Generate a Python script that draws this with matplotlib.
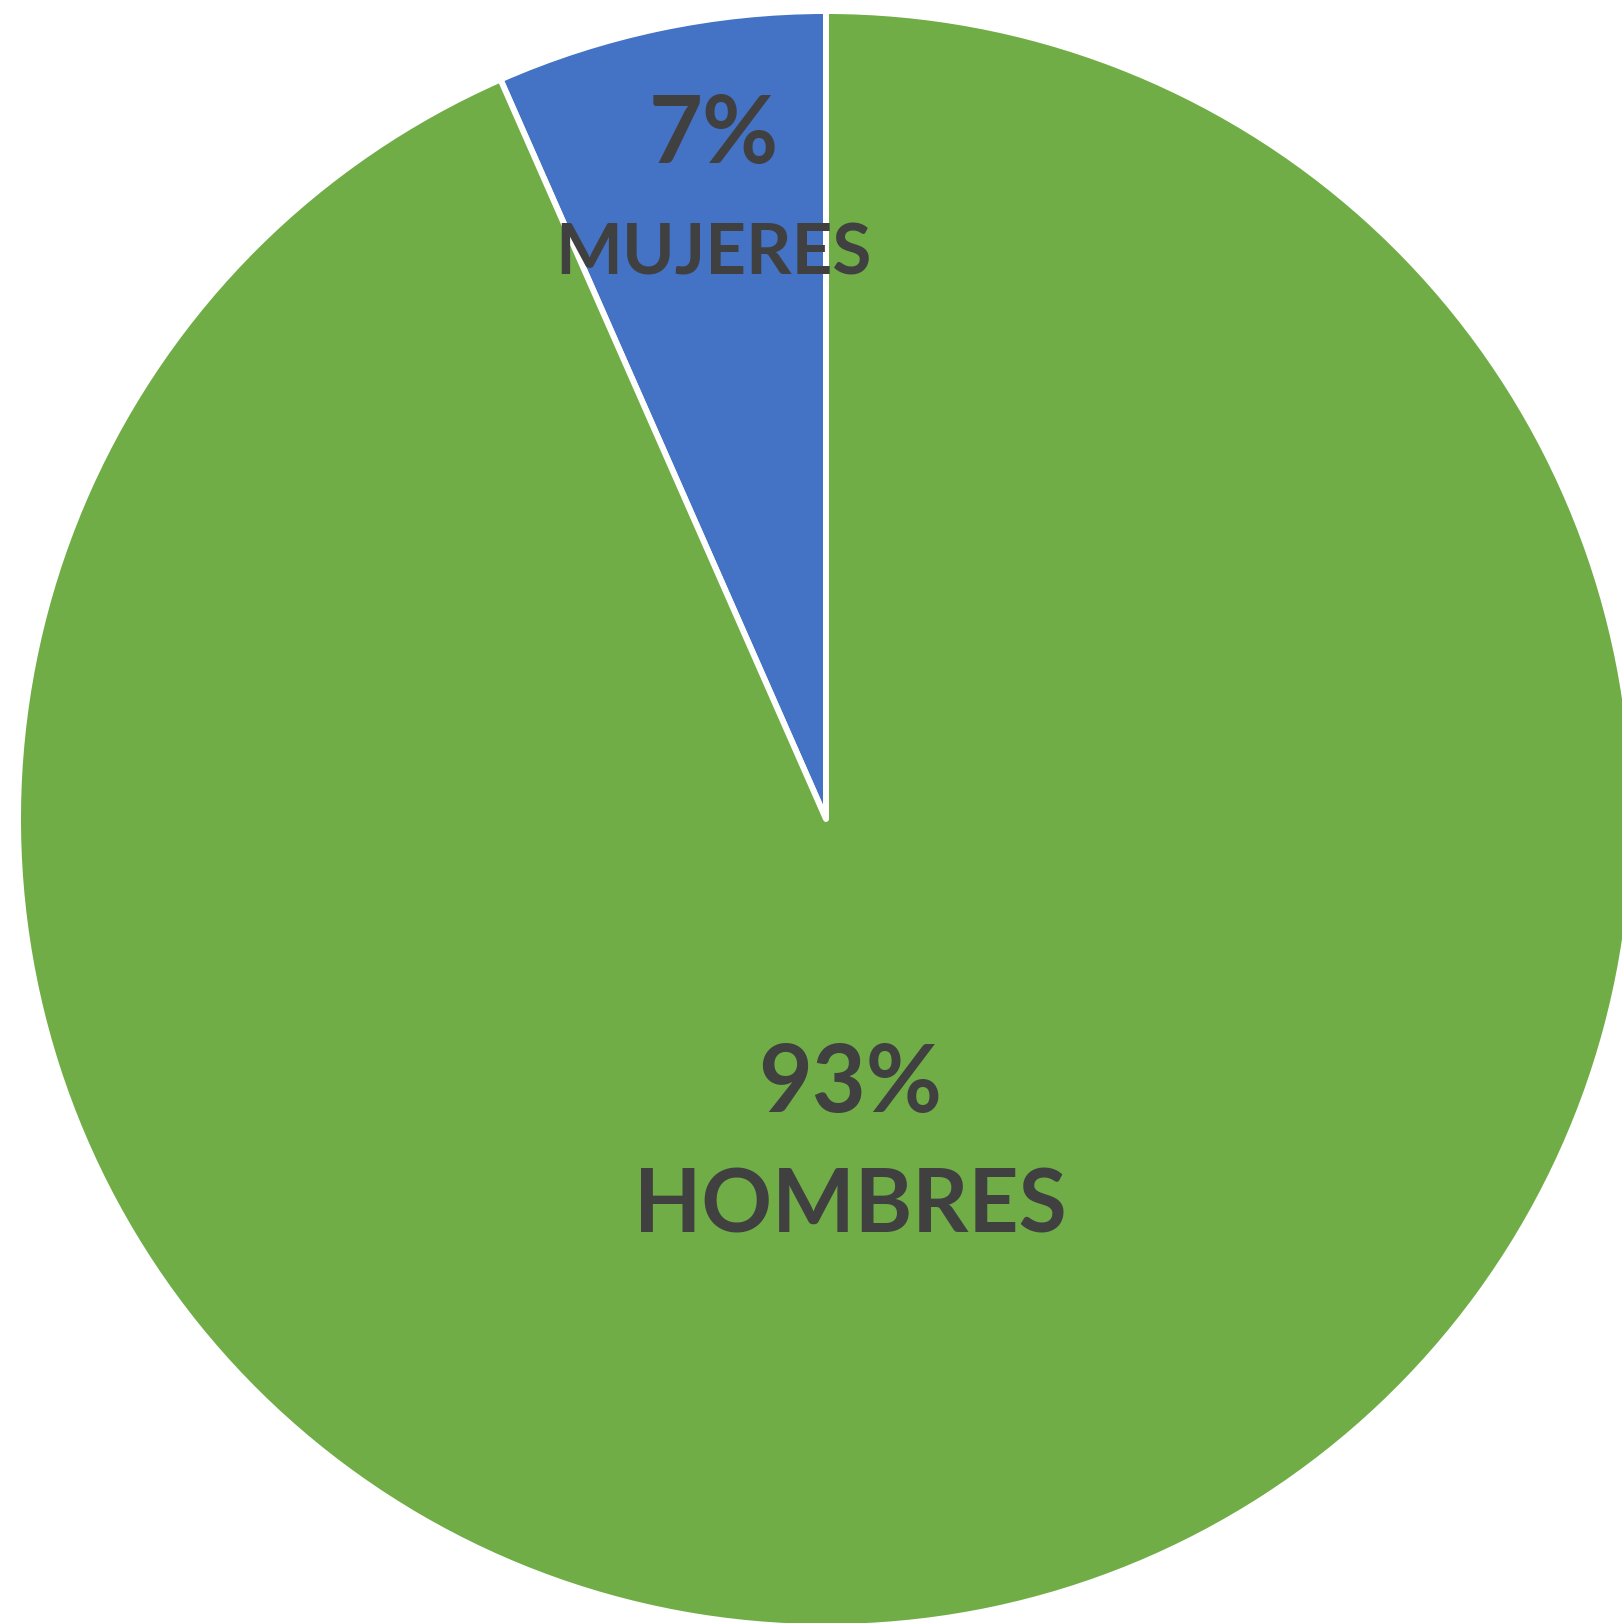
import numpy as np
import matplotlib
matplotlib.use("Agg")
import matplotlib.pyplot as plt

# data
labels = ["MUJERES", "HOMBRES"]
values = [6.6, 93.4]
pct_labels = ["7%", "93%"]
colors = ["#4472C4", "#70AD47"]

# figure in pixel units: 1622 x 1623 at 100 dpi
W, H = 1622, 1623
cx, cy, r = 826, 819, 808  # pie centre (from top) and radius in px

fig = plt.figure(figsize=(W / 100, H / 100), dpi=100)
fig.patch.set_facecolor("white")
ax = fig.add_axes([0, 0, 1, 1])

wedges, _ = ax.pie(
    values,
    colors=colors,
    startangle=90,
    counterclock=True,
    radius=1,
    wedgeprops=dict(edgecolor="white", linewidth=4.3, joinstyle="round"),
)

ax.set_xlim(-cx / r, (W - cx) / r)
ax.set_ylim(-(H - cy) / r, cy / r)
ax.set_aspect("equal", adjustable="box")
ax.axis("off")

font = ["Lato", "DejaVu Sans"]
txt_color = "#404040"

# label offsets (in radius units) relative to pie centre, per wedge
pct_pos = [(-0.139, 0.845), (0.030, -0.329)]
name_pos = [(-0.139, 0.699), (0.030, -0.480)]
pct_size = [67, 67]
name_size = [51, 63]

for i, w in enumerate(wedges):
    ax.text(pct_pos[i][0], pct_pos[i][1], pct_labels[i], ha="center", va="center",
            fontsize=pct_size[i], fontweight="bold", color=txt_color, family=font)
    ax.text(name_pos[i][0], name_pos[i][1], labels[i], ha="center", va="center",
            fontsize=name_size[i], fontweight="bold", color=txt_color, family=font)

fig.savefig("out.png", dpi=100, facecolor="white")
